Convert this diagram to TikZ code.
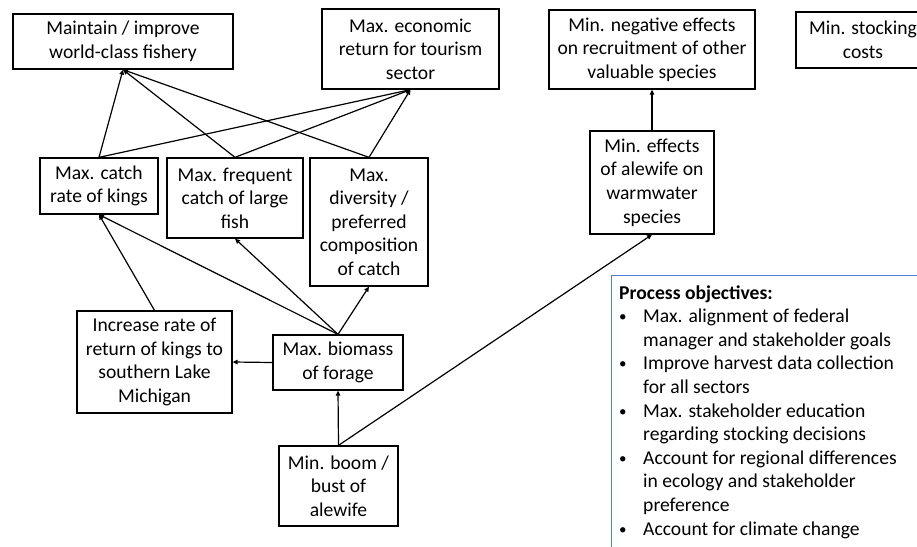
\documentclass[tikz,border=0pt]{standalone}
\usepackage{fontspec}
\setmainfont{Carlito}
\usetikzlibrary{arrows.meta}
\definecolor{procblue}{RGB}{80,125,215}
\begin{document}
\begin{tikzpicture}[x=1pt,y=-1pt,
  txt/.style={font=\fontsize{19.6}{23.6}\selectfont},
  box/.style={txt, draw, line width=1.3pt, align=center, inner sep=0pt},
  arr/.style={-{Triangle[length=5pt,width=4.5pt]}, line width=1.2pt},
  pline/.style={txt, anchor=base west, inner sep=0pt},
  bul/.style={font=\fontsize{15}{15}\selectfont, anchor=base west, inner sep=0pt}]
\useasboundingbox (0,0) rectangle (917,546);
\node[box, minimum width=220pt, minimum height=55pt] (A) at (123,41.5) {Maintain / improve\\world-class fishery};
\node[box, minimum width=177pt, minimum height=80pt] (B) at (410.5,49) {Max. economic\\return for tourism\\sector};
\node[box, minimum width=118pt, minimum height=56pt] (C) at (99,186) {Max. catch\\rate of kings};
\node[box, minimum width=136pt, minimum height=80pt] (D) at (235,198) {Max. frequent\\catch of large\\fish};
\node[box, minimum width=118pt, minimum height=128pt] (E) at (369,222) {Max.\\diversity /\\preferred\\composition\\of catch};
\node[box, minimum width=206pt, minimum height=79pt] (F) at (652,49.5) {Min. negative effects\\on recruitment of other\\valuable species};
\node[box, minimum width=134pt, minimum height=56pt] (G) at (863,40) {Min. stocking\\costs};
\node[box, minimum width=124pt, minimum height=103pt] (H) at (652,182.5) {Min. effects\\of alewife on\\warmwater\\species};
\node[box, minimum width=155pt, minimum height=102pt] (I) at (154.5,362) {Increase rate of\\return of kings to\\southern Lake\\Michigan};
\node[box, minimum width=130pt, minimum height=55pt] (J) at (338,362.5) {Max. biomass\\of forage};
\node[box, minimum width=119pt, minimum height=80pt] (K) at (338.5,486) {Min. boom /\\bust of\\alewife};

\draw[arr] (C.north) -- (A.south);
\draw[arr] (D.north) -- (A.south);
\draw[arr] (E.north) -- (A.south);
\draw[arr] (C.north) -- (B.south);
\draw[arr] (D.north) -- (B.south);
\draw[arr] (E.north) -- (B.south);
\draw[arr] (J.north) -- (C.south);
\draw[arr] (I.north) -- (C.south);
\draw[arr] (J.north) -- (D.south);
\draw[arr] (J.north) -- (E.south);
\draw[arr] (J.west) -- (I.east);
\draw[arr] (K.north) -- (J.south);
\draw[arr] (K.north) -- (H.south);
\draw[arr] (H.north) -- (F.south);

\node[draw=procblue, line width=1.2pt, minimum width=314pt, minimum height=285pt, inner sep=0pt, anchor=north west] (P) at (611,275) {};
\node[pline, font=\fontsize{19.6}{23.6}\selectfont\bfseries] (p0) at (619,299) {Process objectives:};
\node[bul] (b1) at (619,321.6) {•};
\node[pline] (p1) at (643,322.6) {Max. alignment of federal};
\node[pline] (p2) at (643,346.2) {manager and stakeholder goals};
\node[bul] (b2) at (619,368.8) {•};
\node[pline] (p3) at (643,369.8) {Improve harvest data collection};
\node[pline] (p4) at (643,393.4) {for all sectors};
\node[bul] (b3) at (619,416) {•};
\node[pline] (p5) at (643,417) {Max. stakeholder education};
\node[pline] (p6) at (643,440.6) {regarding stocking decisions};
\node[bul] (b4) at (619,463.2) {•};
\node[pline] (p7) at (643,464.2) {Account for regional differences};
\node[pline] (p8) at (643,487.8) {in ecology and stakeholder};
\node[pline] (p9) at (643,511.4) {preference};
\node[bul] (b5) at (619,534) {•};
\node[pline] (p10) at (643,535) {Account for climate change};
\end{tikzpicture}
\end{document}
